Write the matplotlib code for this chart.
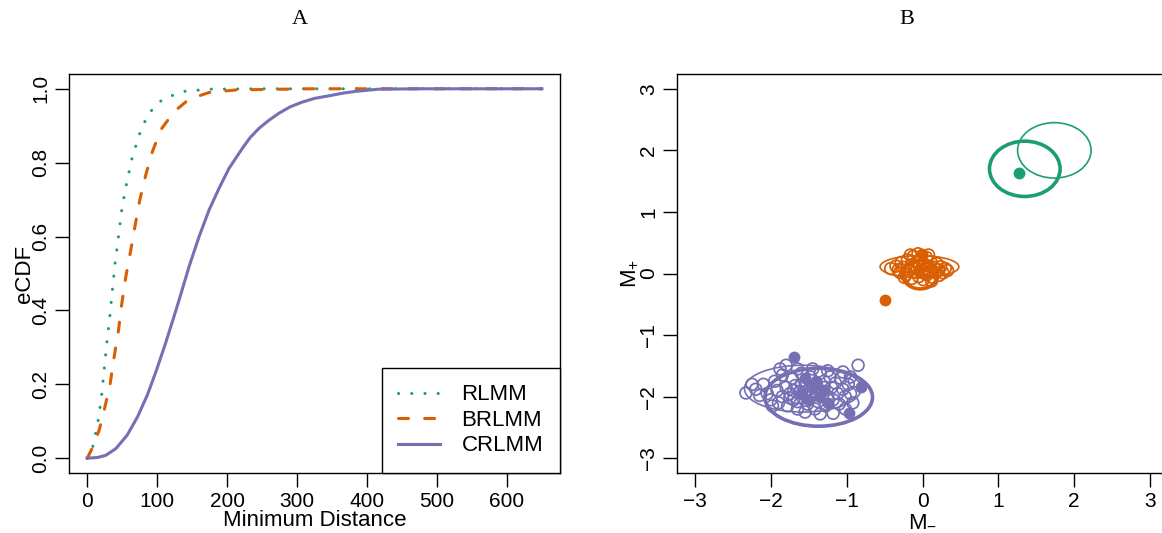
import matplotlib
matplotlib.use("Agg")
import matplotlib.pyplot as plt
from matplotlib.patches import Ellipse

plt.rcParams['font.family'] = ['Liberation Sans', 'DejaVu Sans']
plt.rcParams['mathtext.fontset'] = 'custom'
plt.rcParams['mathtext.rm'] = 'Liberation Sans'
plt.rcParams['lines.scale_dashes'] = False

green, orange, purple = '#1B9E77', '#D95F02', '#7570B3'

# ---- panel A: eCDF of minimum distance
rlmm_x = [0, 7.6, 15.2, 20.5, 24.3, 28.1, 32.4, 36.2, 40, 44.8, 49.5, 56.2, 63.8,
          74.3, 87.1, 108.6, 138.6, 175.7, 250, 650]
rlmm_y = [0, 0.028, 0.096, 0.166, 0.240, 0.313, 0.385, 0.458, 0.530, 0.602, 0.674,
          0.743, 0.810, 0.875, 0.932, 0.973, 0.993, 0.999, 1.0, 1.0]
brlmm_x = [0, 8, 17.1, 24.3, 32.9, 38.6, 44.8, 49.5, 55.2, 62.4, 68.6, 75.2, 83.8,
           93.3, 105.2, 124.3, 145.7, 174.3, 214, 321, 650]
brlmm_y = [0, 0.03, 0.076, 0.130, 0.202, 0.275, 0.347, 0.419, 0.491, 0.564, 0.631,
           0.699, 0.767, 0.830, 0.889, 0.938, 0.972, 0.990, 0.997, 1.0, 1.0]
crlmm_x = [0, 15, 26.7, 41, 57, 72, 86, 99, 112, 124, 131.4, 145.7, 160, 174.3,
           188.6, 202.9, 221.9, 233, 245.7, 260, 274.3, 290, 307.6, 325, 345.7,
           365, 383.8, 417, 480, 650]
crlmm_y = [0, 0.002, 0.008, 0.026, 0.062, 0.112, 0.171, 0.238, 0.311, 0.383, 0.428,
           0.519, 0.600, 0.672, 0.731, 0.785, 0.839, 0.868, 0.893, 0.915, 0.934,
           0.951, 0.964, 0.974, 0.981, 0.988, 0.993, 0.999, 1.0, 1.0]

# ---- panel B: M- / M+ points
orange_open_x = [-0.42, -0.35, -0.30, -0.28, -0.25, -0.22, -0.20, -0.18, -0.15, -0.14,
                 -0.12, -0.10, -0.08, -0.07, -0.05, -0.04, -0.02, 0.00, 0.01, 0.02,
                 0.04, 0.05, 0.06, 0.08, 0.10, 0.11, 0.13, 0.15, 0.17, 0.19, 0.21,
                 0.24, 0.27, 0.30, 0.33, -0.16, 0.08, -0.24, 0.12, -0.06, 0.22, -0.32,
                 0.00, -0.10, 0.03]
orange_open_y = [0.08, 0.12, 0.02, 0.18, 0.10, -0.02, 0.22, 0.06, 0.14, -0.08, 0.28,
                 0.02, 0.18, 0.08, -0.05, 0.12, 0.22, 0.04, -0.10, 0.15, 0.08, 0.26,
                 -0.02, 0.12, 0.03, 0.19, -0.06, 0.10, 0.02, 0.16, 0.06, 0.11, 0.01,
                 0.08, 0.05, 0.30, 0.30, -0.06, -0.12, 0.32, -0.03, 0.06, 0.12, 0.10,
                 0.00]
orange_fill_x = [-0.49, -0.01, -0.04]
orange_fill_y = [-0.43, 0.32, 0.03]

purple_open_x = [-2.10, -2.05, -2.00, -1.95, -1.92, -1.90, -1.85, -1.85, -1.80, -1.78,
                 -1.75, -1.72, -1.70, -1.68, -1.65, -1.62, -1.60, -1.58, -1.55, -1.52,
                 -1.50, -1.48, -1.45, -1.42, -1.40, -1.38, -1.35, -1.33, -1.30, -1.28,
                 -1.25, -1.22, -1.20, -1.18, -1.15, -1.12, -1.10, -1.08, -1.05, -1.02,
                 -0.98, -0.95, -0.92, -0.90, -2.15, -2.20, -1.98, -1.88, -1.55, -1.35,
                 -1.65, -1.45, -1.25, -1.05, -0.95, -1.70, -1.60, -1.50, -1.40, -1.30,
                 -1.55, -1.65, -1.45, -1.75, -2.33, -0.85, -1.80, -1.18, -2.25, -1.02]
purple_open_y = [-1.80, -1.95, -2.05, -1.75, -1.90, -2.10, -1.65, -2.00, -1.85, -2.15,
                 -1.95, -1.70, -2.05, -1.82, -2.20, -1.92, -1.62, -2.02, -1.78, -2.12,
                 -1.88, -1.68, -1.98, -2.20, -1.80, -2.08, -1.62, -1.92, -1.75, -2.15,
                 -2.00, -1.68, -1.85, -2.05, -1.78, -1.95, -2.12, -1.70, -1.88, -2.00,
                 -1.80, -1.95, -2.10, -1.75, -1.98, -1.88, -2.15, -1.55, -2.25, -2.28,
                 -1.55, -1.55, -1.58, -1.60, -1.68, -1.90, -1.80, -2.00, -1.95, -1.85,
                 -1.92, -2.08, -1.85, -2.02, -1.94, -1.49, -1.49, -2.27, -1.80, -2.20]
purple_fill_x = [-1.69, -0.81, -0.97, -1.55, -1.45, -1.35, -1.50, -1.40, -1.30, -1.60,
                 -1.25]
purple_fill_y = [-1.36, -1.85, -2.26, -1.70, -1.85, -2.00, -2.05, -1.75, -1.90, -1.95,
                 -2.10]
green_fill_x = [1.28]
green_fill_y = [1.64]

# ellipses: (colour, centre x, centre y, semi x, semi y, thick)
ellipses = [
    (green, 1.35, 1.70, 0.466, 0.449, True),
    (green, 1.74, 2.00, 0.485, 0.450, False),
    (orange, -0.03, -0.02, 0.23, 0.23, True),
    (orange, -0.04, 0.11, 0.52, 0.18, False),
    (purple, -1.37, -2.01, 0.71, 0.47, True),
    (purple, -1.58, -1.87, 0.77, 0.38, False),
]

W, H = 1162, 533
fig = plt.figure(figsize=(W / 100, H / 100), dpi=100)
axA = fig.add_axes([69 / W, 60 / H, 491 / W, 399 / H])
axB = fig.add_axes([677 / W, 60 / H, 491 / W, 399 / H])

lw = 2.2
axA.plot(rlmm_x, rlmm_y, color=green, lw=lw, dashes=(0.1, 9.4),
         dash_capstyle='round', label='RLMM')
axA.plot(brlmm_x, brlmm_y, color=orange, lw=lw, dashes=(7.2, 11.6),
         dash_capstyle='round', label='BRLMM')
axA.plot(crlmm_x, crlmm_y, color=purple, lw=lw, label='CRLMM')
axA.set_xlim(-26, 676)
axA.set_ylim(-0.04, 1.04)
axA.set_xticks([0, 100, 200, 300, 400, 500, 600])
axA.set_yticks([0, 0.2, 0.4, 0.6, 0.8, 1.0])
axA.set_yticklabels(['0.0', '0.2', '0.4', '0.6', '0.8', '1.0'], rotation=90, va='center')
leg = axA.legend(loc='lower right', borderaxespad=0, fancybox=False, framealpha=1,
                 edgecolor='black', fontsize=16, handlelength=1.9, labelspacing=0.2,
                 borderpad=0.75, handletextpad=0.95)
leg.get_frame().set_linewidth(1.0)
axA.text(0.5, -0.134, 'Minimum Distance', transform=axA.transAxes,
         ha='center', va='baseline', fontsize=16)
axA.text(-0.09, 0.5, 'eCDF', transform=axA.transAxes, rotation=90,
         ha='center', va='center', fontsize=16)

ms = 8.5
axB.scatter(purple_open_x, purple_open_y, s=ms ** 2, facecolors='none',
            edgecolors=purple, linewidths=1.25)
axB.scatter(purple_fill_x, purple_fill_y, s=ms ** 2, color=purple, linewidths=0)
axB.scatter(orange_open_x, orange_open_y, s=ms ** 2, facecolors='none',
            edgecolors=orange, linewidths=1.25)
axB.scatter(orange_fill_x, orange_fill_y, s=ms ** 2, color=orange, linewidths=0)
axB.scatter(green_fill_x, green_fill_y, s=ms ** 2, color=green, linewidths=0)
for col, cx, cy, a, b, thick in ellipses:
    axB.add_patch(Ellipse((cx, cy), 2 * a, 2 * b, fill=False, edgecolor=col,
                          lw=2.6 if thick else 1.2))
axB.set_xlim(-3.24, 3.24)
axB.set_ylim(-3.24, 3.24)
ticks = [-3, -2, -1, 0, 1, 2, 3]
labels = ['\u22123', '\u22122', '\u22121', '0', '1', '2', '3']
axB.set_xticks(ticks)
axB.set_xticklabels(labels)
axB.set_yticks(ticks)
axB.set_yticklabels(labels, rotation=90, va='center')
axB.text(0.5, -0.134, r'$\mathregular{M_{-}}$', transform=axB.transAxes,
         ha='center', va='baseline', fontsize=16)
axB.text(-0.095, 0.5, r'$\mathregular{M_{+}}$', transform=axB.transAxes, rotation=90,
         ha='center', va='center', fontsize=16)

for ax in (axA, axB):
    ax.tick_params(length=10, width=1, pad=3.5, labelsize=15, color='black')
    for s in ax.spines.values():
        s.set_linewidth(1.0)

fig.text(300 / W, 1 - 20 / H, 'A', ha='center', va='center', fontsize=16,
         family='Liberation Serif')
fig.text(907 / W, 1 - 20 / H, 'B', ha='center', va='center', fontsize=16,
         family='Liberation Serif')

fig.savefig('out.png', dpi=100)
